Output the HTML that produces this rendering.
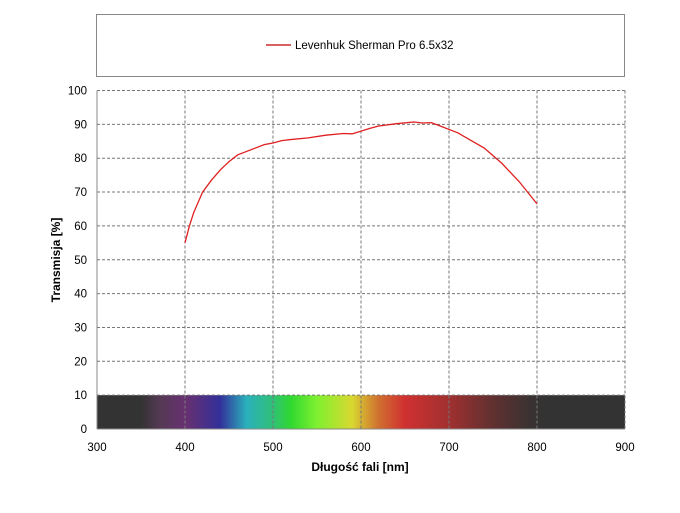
<!DOCTYPE html>
<html><head><meta charset="utf-8"><style>
body{margin:0;background:#fff;font-family:"Liberation Sans",sans-serif}
</style></head><body>
<svg width="680" height="508" xmlns="http://www.w3.org/2000/svg">
<defs>
<linearGradient id="spec" x1="0" x2="1" y1="0" y2="0">
<stop offset="0" stop-color="#333"/>
<stop offset="0.083" stop-color="#333"/>
<stop offset="0.12" stop-color="#553a55"/>
<stop offset="0.167" stop-color="#683070"/>
<stop offset="0.233" stop-color="#33309a"/>
<stop offset="0.283" stop-color="#2ab0bc"/>
<stop offset="0.333" stop-color="#30c078"/>
<stop offset="0.367" stop-color="#30d830"/>
<stop offset="0.417" stop-color="#80f030"/>
<stop offset="0.483" stop-color="#d8d830"/>
<stop offset="0.533" stop-color="#d07030"/>
<stop offset="0.583" stop-color="#d03030"/>
<stop offset="0.667" stop-color="#a03030"/>
<stop offset="0.75" stop-color="#603030"/>
<stop offset="0.82" stop-color="#3a3232"/>
<stop offset="0.85" stop-color="#333"/>
<stop offset="1" stop-color="#333"/>
</linearGradient>
</defs>
<rect x="96.5" y="14.5" width="528" height="62" fill="#fff" stroke="#888"/>
<line x1="266" y1="45" x2="291" y2="45" stroke="#c00000" stroke-width="1.2"/>
<text x="295" y="49" font-size="11.5" fill="#000">Levenhuk Sherman Pro 6.5x32</text>
<g id="plot"></g>
</svg>
<script>
const xTicks=[300,400,500,600,700,800,900];
const yTicks=[0,10,20,30,40,50,60,70,80,90,100];
const wavelengths=[400,405,410,420,430,440,450,460,470,480,490,500,510,520,540,560,580,590,600,610,620,640,660,670,680,690,700,710,720,740,760,780,800];
const transmission=[55,60,64,70,73.5,76.5,79,81,82,83,84,84.5,85.2,85.5,86,86.8,87.3,87.2,88,88.8,89.5,90.2,90.7,90.4,90.5,89.5,88.5,87.5,86,83,78.5,73,66.5];
const L=97,R=625,T=90.5,B=429;
const sx=v=>L+(v-300)/600*(R-L), sy=v=>B-v/100*(B-T);
const NS="http://www.w3.org/2000/svg", g=document.getElementById('plot');
function mk(t,a){const e=document.createElementNS(NS,t);for(const k in a)e.setAttribute(k,a[k]);g.appendChild(e);return e;}
let e=mk('rect',{x:L,y:sy(10),width:R-L,height:sy(0)-sy(10),fill:'url(#spec)'});


yTicks.forEach(v=>{
 if(v>0){let l=mk('line',{x1:L,x2:R,y1:sy(v),y2:sy(v),stroke:'#777','stroke-dasharray':'3,2','stroke-width':1});
 
 }
 let t=mk('text',{x:L-10,y:sy(v)+4,'font-size':11.5,'text-anchor':'end'});t.textContent=v;
 
 
});
xTicks.forEach(v=>{
 if(v>300){let l=mk('line',{x1:sx(v),x2:sx(v),y1:T,y2:B,stroke:'#777','stroke-dasharray':'3,2','stroke-width':1,opacity:v>=400&&v<=800?1:1});
 
 }
 let t=mk('text',{x:sx(v),y:B+22,'font-size':11.5,'text-anchor':'middle'});t.textContent=v;
 
 
});
e=mk('line',{x1:L,x2:L,y1:T,y2:B,stroke:'#888'});


e=mk('line',{x1:L,x2:R,y1:B,y2:B,stroke:'#888'});


e=mk('polyline',{points:wavelengths.map((w,i)=>sx(w)+','+sy(transmission[i])).join(' '),fill:'none',stroke:'#e02020','stroke-width':1.3});


e=mk('text',{x:360,y:471,'font-size':12,'font-weight':'bold','text-anchor':'middle'});e.textContent='Długość fali [nm]';


e=mk('text',{x:0,y:0,'font-size':12,'font-weight':'bold','text-anchor':'middle',transform:'translate(60,260) rotate(-90)'});e.textContent='Transmisja [%]';


</script>
</body></html>
